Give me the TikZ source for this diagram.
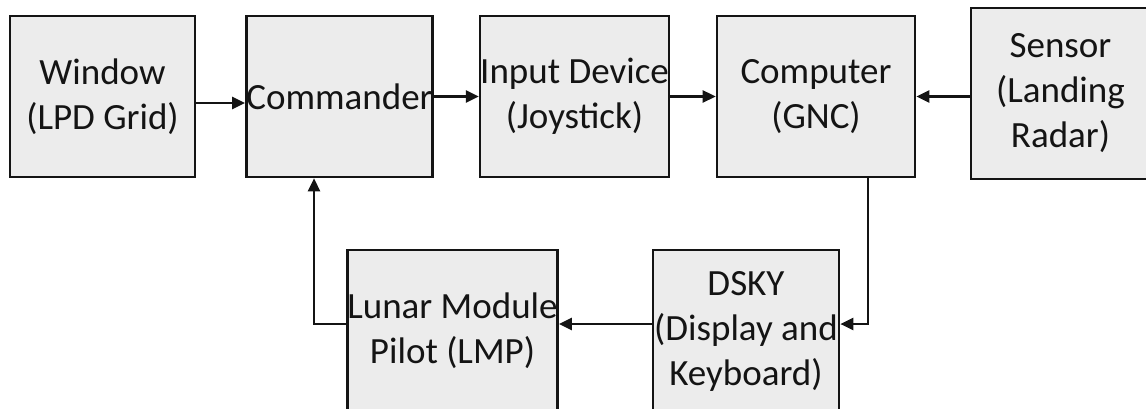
\documentclass[tikz,border=0pt]{standalone}
\usepackage{fontspec}
\setmainfont{Carlito}
\usetikzlibrary{arrows.meta}
\definecolor{boxfill}{RGB}{236,236,236}
\definecolor{ink}{RGB}{20,20,20}
\tikzset{
  blk/.style={draw=ink, line width=2.6pt, fill=boxfill, align=center,
    inner sep=0pt, font=\fontsize{37}{45}\selectfont, text=ink},
  arr/.style={draw=ink, line width=2.6pt,
    -{Triangle[length=13pt,width=12pt]}}
}
\begin{document}
\begin{tikzpicture}[x=1pt,y=-1pt]
\useasboundingbox (0,0) rectangle (1146,409);
\clip (0,0) rectangle (1146,409);
% top row
\node[blk, minimum width=185pt, minimum height=161pt] (win) at (102.5,96.5) {Window\\(LPD Grid)};
\node[blk, minimum width=185pt, minimum height=161pt] (cmd) at (339.5,96.5) {Commander};
\node[blk, minimum width=185pt, minimum height=161pt] (inp) at (574.5,96.5) {Input Device\\(Joystick)};
\node[blk, minimum width=198pt, minimum height=161pt] (gnc) at (816,96.5) {Computer\\(GNC)};
\node[blk, minimum width=179pt, minimum height=171pt] (sen) at (1060.5,93.5) {Sensor\\(Landing\\Radar)};
% bottom row
\node[blk, minimum width=199pt, minimum height=162pt] (lmp) at (452.5,331) {Lunar Module\\Pilot (LMP)};
\node[blk, minimum width=186pt, minimum height=162pt] (dsky) at (746,331) {DSKY\\(Display and\\Keyboard)};
% connectors
\draw[arr] ([yshift=-6.5pt]win.east) -- ([yshift=-6.5pt]cmd.west);
\draw[arr] (cmd.east) -- (inp.west);
\draw[arr] (inp.east) -- (gnc.west);
\draw[arr] (sen.west |- gnc.east) -- (gnc.east);
\draw[arr] ([xshift=52pt]gnc.south) |- ([yshift=7pt]dsky.east);
\draw[arr] ([yshift=7pt]dsky.west) -- ([yshift=7pt]lmp.east);
\draw[arr] ([yshift=7pt]lmp.west) -| ([xshift=-25.5pt]cmd.south);
\end{tikzpicture}
\end{document}
